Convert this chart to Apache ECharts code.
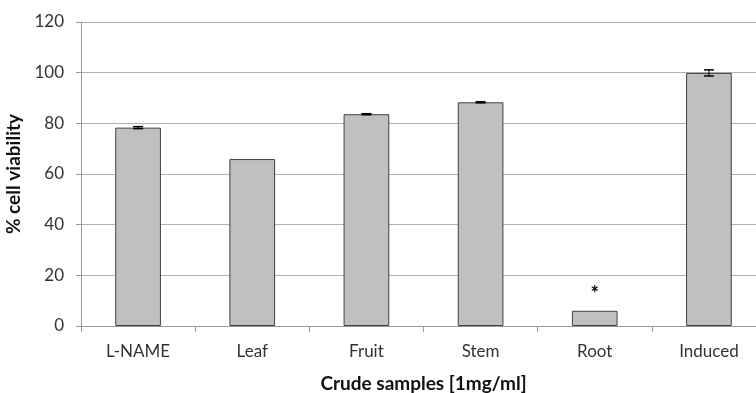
<!DOCTYPE html>
<html><head><meta charset="utf-8">
<script src="https://cdn.jsdelivr.net/npm/echarts@6/dist/echarts.min.js"></script>
<style>html,body{margin:0;padding:0;background:#fff}#c{width:756px;height:393px}</style>
</head><body><div id="c"></div>
<script>
const categories = ['L-NAME', 'Leaf', 'Fruit', 'Stem', 'Root', 'Induced'];
const viability = [78.3, 65.9, 83.6, 88.3, 6.0, 99.9];
const errors = [0.4, 0.0, 0.2, 0.2, 0.0, 1.2];
const markText = ['', '', '', '', '*', ''];
const markValue = [null, null, null, null, 12.5, null];
const yTicks = { min: 0, max: 120, interval: 20 };

const font = 'Lato, "Open Sans", sans-serif';
const chart = echarts.init(document.getElementById('c'), null, { renderer: 'canvas' });
chart.setOption({
  animation: false,
  grid: { left: 81, right: -10, top: 22, bottom: 67, outerBoundsMode: 'none', containLabel: false },
  xAxis: {
    type: 'category', data: categories,
    name: 'Crude samples [1mg/ml]', nameLocation: 'middle', nameGap: 48,
    nameTextStyle: { fontFamily: font, fontSize: 19, fontWeight: 'bold', color: '#111' },
    axisLine: { lineStyle: { color: '#999', width: 1 } },
    axisTick: { show: true, length: 6, lineStyle: { color: '#999' } },
    axisLabel: { fontFamily: font, fontSize: 17, color: '#333', margin: 17 }
  },
  yAxis: {
    type: 'value', min: yTicks.min, max: yTicks.max, interval: yTicks.interval,
    name: '% cell viability', nameLocation: 'middle', nameGap: 53, nameRotate: 90,
    nameTextStyle: { fontFamily: font, fontSize: 19, fontWeight: 'bold', color: '#111' },
    axisLine: { show: true, lineStyle: { color: '#999', width: 1 } },
    axisTick: { show: true, length: 5, lineStyle: { color: '#999' } },
    axisLabel: { fontFamily: font, fontSize: 17, color: '#333', margin: 17 },
    splitLine: { lineStyle: { color: '#b0b0b0', width: 1 } }
  },
  series: [
    {
      type: 'bar', data: viability, barWidth: '40%',
      itemStyle: { color: '#c0c0c0', borderColor: '#404040', borderWidth: 1 }
    },
    {
      type: 'custom',
      data: viability.map((v, i) => [i, v, errors[i]]),
      z: 10,
      renderItem: function (params, api) {
        const i = api.value(0), v = api.value(1), e = api.value(2);
        if (!e) return;
        const hi = api.coord([i, v + e]);
        const lo = api.coord([i, v - e]);
        const hw = 5;
        return {
          type: 'group',
          children: [
            { type: 'line', shape: { x1: hi[0], y1: hi[1], x2: lo[0], y2: lo[1] }, style: { stroke: '#000', lineWidth: 1 } },
            { type: 'line', shape: { x1: hi[0] - hw, y1: hi[1], x2: hi[0] + hw, y2: hi[1] }, style: { stroke: '#000', lineWidth: 1.5 } },
            { type: 'line', shape: { x1: lo[0] - hw, y1: lo[1], x2: lo[0] + hw, y2: lo[1] }, style: { stroke: '#000', lineWidth: 1.5 } }
          ]
        };
      }
    },
    {
      type: 'custom',
      data: markValue.map((v, i) => [i, v, markText[i]]),
      z: 11,
      renderItem: function (params, api) {
        const i = api.value(0), v = api.value(1);
        const t = markText[params.dataIndex];
        if (!t) return;
        const p = api.coord([i, v]);
        return { type: 'text', style: { x: p[0], y: p[1], text: t, fill: '#000', font: 'bold 20px ' + font, textAlign: 'center', textVerticalAlign: 'middle' } };
      }
    }
  ]
});
</script></body></html>
